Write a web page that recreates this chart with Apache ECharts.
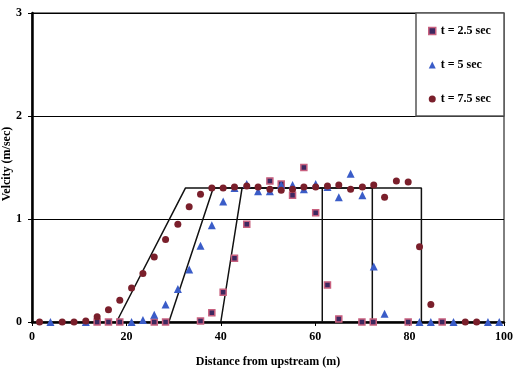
<!DOCTYPE html>
<html><head><meta charset="utf-8">
<script src="https://cdn.jsdelivr.net/npm/echarts@6/dist/echarts.min.js"></script>
<style>html,body{margin:0;padding:0;background:#fff}#c{width:513px;height:368px}</style>
</head><body><div id="c"></div>
<script>
const seriesNames = ['t = 2.5 sec', 't = 5 sec', 't = 7.5 sec'];

// t = 2.5 sec (squares)
const t25X = [13.8,16.2,18.6,25.9,28.3,35.7,38.1,40.5,42.9,45.5,50.4,52.8,55.2,57.6,60.1,62.6,65.0,69.9,72.3,79.7,86.9];
const t25Y = [0,0,0,0,0,0.01,0.09,0.29,0.62,0.95,1.37,1.34,1.23,1.50,1.06,0.36,0.03,0,0,0,0];

// t = 5 sec (triangles)
const t5X = [3.9,11.4,21.1,23.5,25.9,28.3,30.9,33.3,35.7,38.1,40.5,42.9,45.5,47.9,50.4,52.8,55.2,57.6,60.1,62.6,65.0,67.5,70.0,72.4,74.7,82.1,84.5,89.3,96.6,99.0];
const t5Y = [0,0,0,0.02,0.07,0.17,0.32,0.51,0.74,0.94,1.17,1.30,1.34,1.27,1.27,1.33,1.33,1.29,1.34,1.31,1.21,1.44,1.23,0.54,0.08,0,0,0,0,0];

// t = 7.5 sec (circles)
const t75X = [1.6,6.4,8.9,11.4,13.8,16.2,18.6,21.1,23.5,25.9,28.3,30.9,33.3,35.7,38.1,40.5,42.9,45.5,47.9,50.4,52.8,55.2,57.6,60.1,62.6,65.0,67.5,70.0,72.4,74.7,77.2,79.7,82.1,84.5,91.8,94.2];
const t75Y = [0,0,0,0.01,0.05,0.12,0.21,0.33,0.47,0.63,0.80,0.95,1.12,1.24,1.30,1.30,1.31,1.32,1.31,1.29,1.28,1.29,1.31,1.31,1.32,1.33,1.29,1.31,1.33,1.21,1.37,1.36,0.73,0.17,0,0];

// analytical solution lines
const line25X = [40.0,44.5,61.5,61.5];
const line25Y = [0,1.3,1.3,0];
const line5X = [29.0,38.4,72.1,72.1];
const line5Y = [0,1.3,1.3,0];
const line75X = [17.9,32.5,82.5,82.5];
const line75Y = [0,1.3,1.3,0];

const xTitle = 'Distance from upstream (m)';
const yTitle = 'Velcity (m/sec)';

const pair = (xs, ys) => xs.map((x, i) => [x, ys[i]]);
const font = 'Liberation Serif';
const txt = {fontFamily: font, fontWeight: 'bold', fontSize: 12, color: '#000'};

const sqStyle = {color: '#3d2860', borderColor: '#c8607f', borderWidth: 1.5, opacity: 1};
const triStyle = {color: '#3a5cc8', opacity: 1};
const cirStyle = {color: '#7a1f2b', opacity: 1};

const lineSeries = (name, xs, ys) => ({
  name: name, type: 'line', data: pair(xs, ys), symbol: 'none', z: 1,
  lineStyle: {color: '#111', width: 1.5}, silent: true
});

const chart = echarts.init(document.getElementById('c'), null, {renderer: 'canvas'});
chart.setOption({
  animation: false,
  grid: {left: 32, right: 9, top: 13, bottom: 46, containLabel: false, outerBoundsMode: 'none',
         show: true, borderColor: '#000', borderWidth: 1, backgroundColor: 'transparent'},
  xAxis: {
    type: 'value', min: 0, max: 100, interval: 20,
    name: xTitle, nameLocation: 'middle', nameGap: 34, nameTextStyle: txt,
    axisLine: {show: true, lineStyle: {color: '#000', width: 2.5}},
    axisTick: {show: true, length: 4, lineStyle: {color: '#000', width: 1}},
    axisLabel: Object.assign({margin: 9}, txt),
    splitLine: {show: false}
  },
  yAxis: {
    type: 'value', min: 0, max: 3, interval: 1,
    axisLine: {show: true, lineStyle: {color: '#000', width: 2.5}},
    axisTick: {show: true, length: 4, lineStyle: {color: '#000', width: 1}},
    axisLabel: Object.assign({margin: 10}, txt),
    splitLine: {show: true, lineStyle: {color: '#000', width: 1}}
  },
  legend: {
    orient: 'vertical', left: 428, top: 24, itemWidth: 7, itemHeight: 7, itemGap: 20, padding: 0, z: 10,
    selectedMode: false,
    textStyle: Object.assign({lineHeight: 14}, txt),
    data: [
      {name: seriesNames[0], icon: 'rect', itemStyle: sqStyle},
      {name: seriesNames[1], icon: 'triangle', itemStyle: triStyle},
      {name: seriesNames[2], icon: 'circle', itemStyle: cirStyle}
    ]
  },
  graphic: [
    {type: 'rect', z: 5, shape: {x: 416, y: 13, width: 88, height: 103}, style: {fill: '#fff', stroke: '#555', lineWidth: 1.5}},
    {type: 'text', z: 5, x: 7, y: 164, rotation: Math.PI / 2,
     style: {text: yTitle, font: 'bold 12px "Liberation Serif"', fill: '#000', align: 'center', verticalAlign: 'middle'}}
  ],
  series: [
    lineSeries('a25', line25X, line25Y),
    lineSeries('a5', line5X, line5Y),
    lineSeries('a75', line75X, line75Y),
    {name: seriesNames[0], type: 'scatter', symbol: 'rect', symbolSize: 6, z: 2, data: pair(t25X, t25Y), itemStyle: sqStyle},
    {name: seriesNames[1], type: 'scatter', symbol: 'triangle', symbolSize: 8, z: 3, data: pair(t5X, t5Y), itemStyle: triStyle},
    {name: seriesNames[2], type: 'scatter', symbol: 'circle', symbolSize: 7, z: 4, data: pair(t75X, t75Y), itemStyle: cirStyle}
  ]
});
</script></body></html>
